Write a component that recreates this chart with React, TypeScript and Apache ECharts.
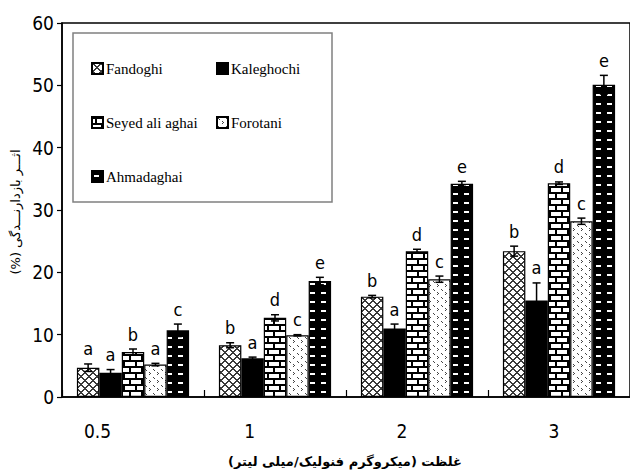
import { useEffect, useRef } from 'react';
import * as echarts from 'echarts';

const categories = ['0.5', '1', '2', '3'];
const seriesNames = ['Fandoghi', 'Kaleghochi', 'Seyed ali aghai', 'Forotani', 'Ahmadaghai'];

const fandoghi = [4.7, 8.3, 16.1, 23.4];
const kaleghochi = [3.9, 6.2, 11.0, 15.5];
const seyed = [7.2, 12.7, 23.4, 34.3];
const forotani = [5.2, 9.9, 18.9, 28.2];
const ahmadaghai = [10.7, 18.6, 34.2, 50.1];

const fandoghiErr = [0.6, 0.4, 0.2, 0.8];
const kaleghochiErr = [0.5, 0.2, 0.7, 2.8];
const seyedErr = [0.5, 0.5, 0.3, 0.2];
const forotaniErr = [0.2, 0.1, 0.5, 0.5];
const ahmadaghaiErr = [1.0, 0.6, 0.4, 1.5];

const fandoghiLetters = ['a', 'b', 'b', 'b'];
const kaleghochiLetters = ['a', 'a', 'a', 'a'];
const seyedLetters = ['b', 'd', 'd', 'd'];
const forotaniLetters = ['a', 'c', 'c', 'c'];
const ahmadaghaiLetters = ['c', 'e', 'e', 'e'];

const yTicks = { min: 0, max: 60, interval: 10 };

const yAxisName = 'اثـــر بازدارنـــدگی (%)\u200F';
const xAxisName = 'غلظت (میکروگرم فنولیک/میلی لیتر)\u200F';

const NARROW = "'Liberation Sans Narrow', 'DejaVu Sans Condensed', 'Liberation Sans', Arial, sans-serif";
const SERIF = "'Liberation Serif', serif";
const PERSIAN = "'DejaVu Sans', 'Noto Sans', sans-serif";

function makeTile(w: number, h: number, draw: (ctx: CanvasRenderingContext2D) => void) {
  const c = document.createElement('canvas');
  c.width = w;
  c.height = h;
  const ctx = c.getContext('2d') as CanvasRenderingContext2D;
  draw(ctx);
  return { image: c.toDataURL(), repeat: 'repeat', imageWidth: w, imageHeight: h } as any;
}

function buildPatterns() {
  const weave = makeTile(8, 8, (ctx) => {
    ctx.fillStyle = '#fff';
    ctx.fillRect(0, 0, 8, 8);
    ctx.fillStyle = '#3a3a3a';
    for (let x = 0; x < 8; x++) {
      for (let y = 0; y < 8; y++) {
        if ((x + y) % 8 < 2 || (x - y + 8) % 8 < 2) ctx.fillRect(x, y, 1, 1);
      }
    }
  });
  const solid = '#000';
  const brick = makeTile(12, 12, (ctx) => {
    ctx.fillStyle = '#fff';
    ctx.fillRect(0, 0, 12, 12);
    ctx.fillStyle = '#000';
    ctx.fillRect(0, 0, 12, 2);
    ctx.fillRect(0, 6, 12, 2);
    ctx.fillRect(3, 0, 2, 6);
    ctx.fillRect(9, 6, 2, 6);
  });
  const confetti = makeTile(8, 8, (ctx) => {
    ctx.fillStyle = '#fff';
    ctx.fillRect(0, 0, 8, 8);
    ctx.fillStyle = '#444';
    ctx.fillRect(1, 1, 1, 1);
    ctx.fillRect(2, 2, 1, 1);
    ctx.fillRect(5, 4, 1, 1);
    ctx.fillRect(6, 5, 1, 1);
    ctx.fillRect(5, 6, 1, 1);
  });
  const dashes = makeTile(11, 9, (ctx) => {
    ctx.fillStyle = '#000';
    ctx.fillRect(0, 0, 11, 9);
    ctx.fillStyle = '#fff';
    ctx.fillRect(2, 4, 5, 2);
  });
  return [weave, solid, brick, confetti, dashes];
}

export default function App() {
  const ref = useRef<HTMLDivElement>(null);

  useEffect(() => {
    if (!ref.current) return;
    const chart = echarts.init(ref.current, null, { renderer: 'svg' });
    const patterns = buildPatterns();
    const values = [fandoghi, kaleghochi, seyed, forotani, ahmadaghai];
    const errs = [fandoghiErr, kaleghochiErr, seyedErr, forotaniErr, ahmadaghaiErr];
    const letters = [fandoghiLetters, kaleghochiLetters, seyedLetters, forotaniLetters, ahmadaghaiLetters];
    const catGap = 0.21;

    const errData: any[] = [];
    const errLetters: string[] = [];
    values.forEach((arr, s) => {
      arr.forEach((v, c) => {
        errData.push([c, s, v, errs[s][c]]);
        errLetters.push(letters[s][c]);
      });
    });

    const barSeries = seriesNames.map((name, i) => ({
      name,
      type: 'bar',
      xAxisIndex: 0,
      yAxisIndex: 0,
      data: values[i],
      barGap: '0%',
      barCategoryGap: catGap * 100 + '%',
      itemStyle: { color: patterns[i], borderColor: '#000', borderWidth: 1.2 },
      emphasis: { disabled: true },
    }));

    const legendCommon = {
      orient: 'vertical',
      itemGap: 39,
      itemWidth: 11,
      itemHeight: 11,
      icon: 'rect',
      selectedMode: false,
      textStyle: { fontFamily: SERIF, fontSize: 15, color: '#000', padding: [0, 0, 0, -2] },
    };

    chart.setOption({
      animation: false,
      backgroundColor: '#fff',
      grid: [
        { left: 62, top: 23, right: -2, bottom: 79, show: true, borderColor: '#000', borderWidth: 1.5, backgroundColor: 'transparent' },
        { left: 21.5, top: 23, right: -59.5, bottom: 79 },
      ],
      xAxis: [
        {
          type: 'category',
          gridIndex: 0,
          data: categories,
          axisLine: { lineStyle: { color: '#000', width: 1.5 } },
          axisTick: { show: true, inside: true, length: 7, lineStyle: { color: '#000', width: 1.2 } },
          axisLabel: { show: false },
          splitLine: { show: false },
        },
        {
          type: 'category',
          gridIndex: 1,
          data: categories,
          axisLine: { show: false },
          axisTick: { show: false },
          axisLabel: { margin: 24, fontSize: 19, color: '#000', fontFamily: NARROW },
          splitLine: { show: false },
        },
      ],
      yAxis: [
        {
          type: 'value',
          gridIndex: 0,
          min: yTicks.min,
          max: yTicks.max,
          interval: yTicks.interval,
          axisLine: { show: true, lineStyle: { color: '#000', width: 1.5 } },
          axisTick: { show: true, length: 5, lineStyle: { color: '#000', width: 1.2 } },
          axisLabel: { margin: 8, fontSize: 19, color: '#000', fontFamily: NARROW },
          splitLine: { show: false },
        },
        { type: 'value', gridIndex: 1, show: false },
      ],
      legend: [
        { ...legendCommon, data: ['Fandoghi', 'Seyed ali aghai', 'Ahmadaghai'], left: 86, top: 56 },
        { ...legendCommon, data: ['Kaleghochi', 'Forotani'], left: 211, top: 56 },
      ],
      graphic: [
        { type: 'rect', shape: { x: 73, y: 33, width: 259, height: 169 }, style: { fill: 'transparent', stroke: '#808080', lineWidth: 1.5 }, silent: true },
        {
          type: 'text', x: 15, y: 212, rotation: Math.PI / 2,
          style: { text: yAxisName, fontFamily: PERSIAN, fontSize: 13, fill: '#000', textAlign: 'center', textVerticalAlign: 'middle' },
        },
        {
          type: 'text', x: 345, y: 461,
          style: { text: xAxisName, fontFamily: PERSIAN, fontWeight: 'bold', fontSize: 13, fill: '#000', textAlign: 'center', textVerticalAlign: 'middle' },
        },
      ],
      series: [
        ...barSeries,
        {
          type: 'custom',
          xAxisIndex: 0,
          yAxisIndex: 0,
          data: errData,
          encode: { x: 0, y: 2 },
          z: 10,
          silent: true,
          renderItem: (params: any, api: any) => {
            const cat = api.value(0);
            const s = api.value(1);
            const v = api.value(2);
            const e = api.value(3);
            const letter = errLetters[params.dataIndex];
            const base = api.coord([cat, v]);
            const band = api.size([1, 0])[0];
            const bw = (band * (1 - catGap)) / 5;
            const x = base[0] + (s - 2) * bw;
            const yT = api.coord([cat, v + e])[1];
            const yB = api.coord([cat, v - e])[1];
            const cap = 4;
            const ls = { stroke: '#000', lineWidth: 1.5 };
            return {
              type: 'group',
              children: [
                { type: 'line', shape: { x1: x, y1: yT, x2: x, y2: yB }, style: ls },
                { type: 'line', shape: { x1: x - cap, y1: yT, x2: x + cap, y2: yT }, style: ls },
                { type: 'line', shape: { x1: x - cap, y1: yB, x2: x + cap, y2: yB }, style: ls },
                {
                  type: 'text', x, y: yT - 6,
                  style: { text: letter, fontFamily: NARROW, fontSize: 18, fill: '#000', textAlign: 'center', textVerticalAlign: 'bottom' },
                },
              ],
            };
          },
        },
      ],
    });
    return () => chart.dispose();
  }, []);

  return <div ref={ref} style={{ position: 'fixed', left: 0, top: 0, width: 630, height: 476 }} />;
}
